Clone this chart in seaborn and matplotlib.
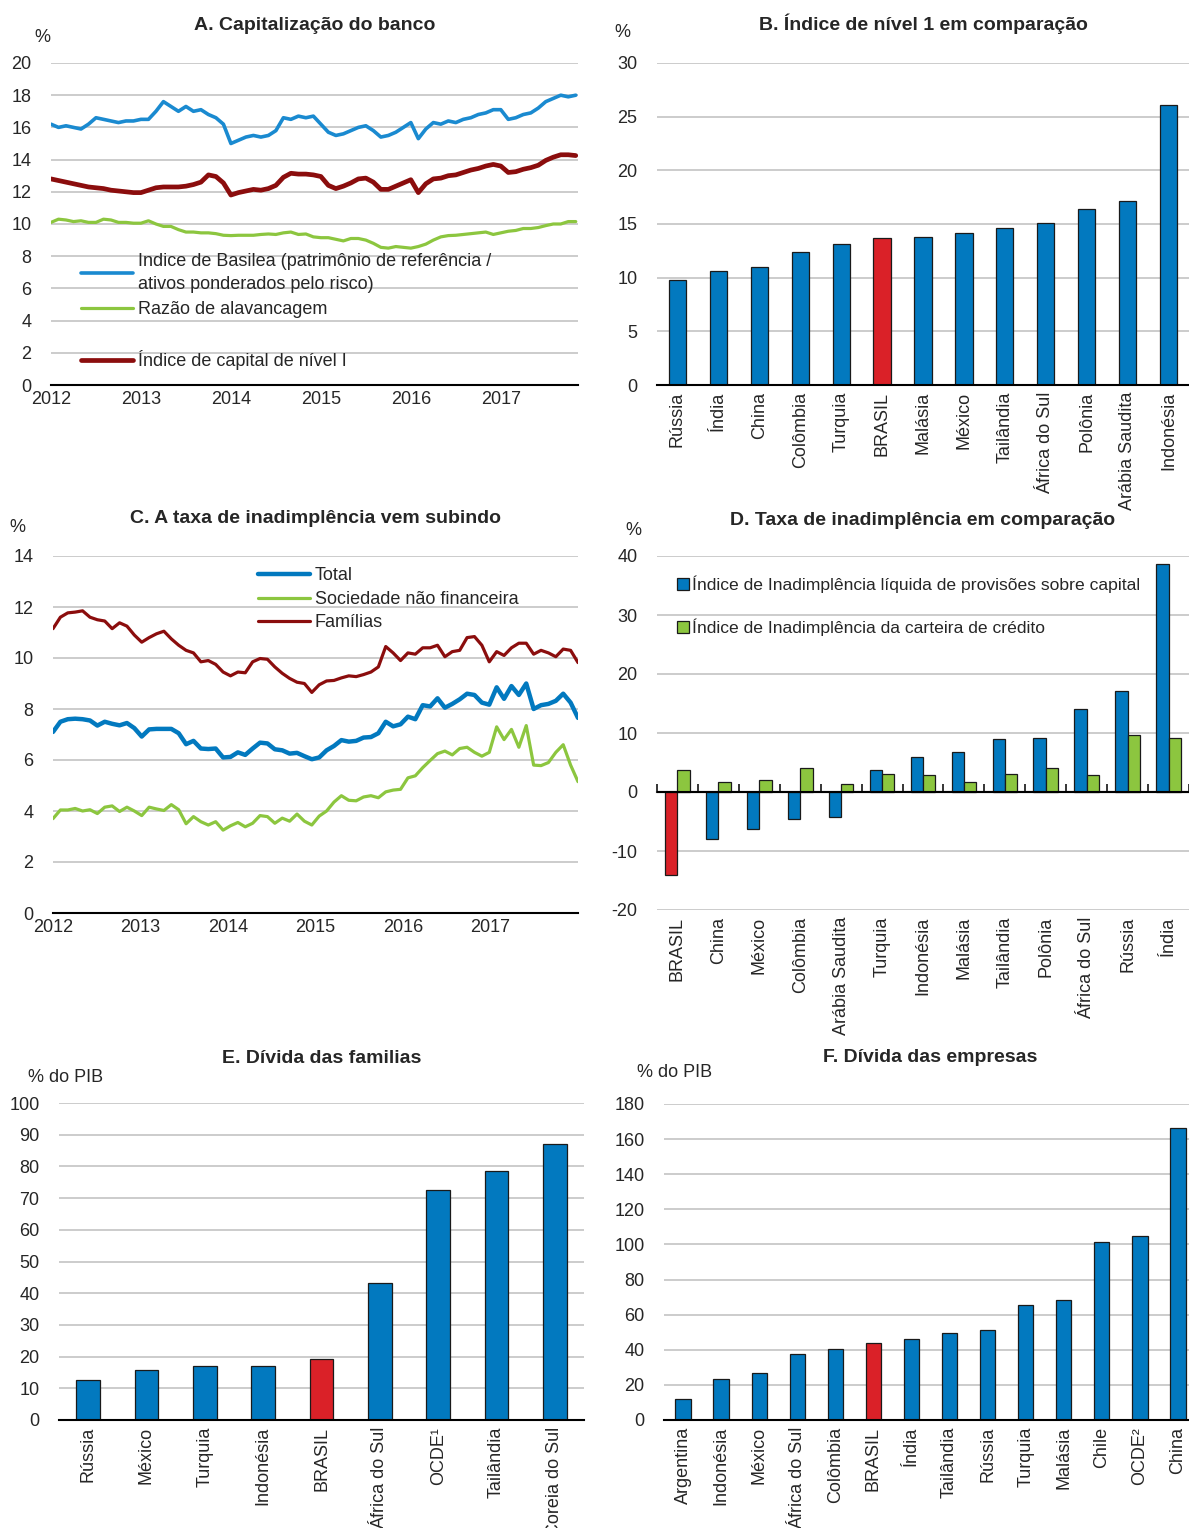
import matplotlib
matplotlib.use("Agg")
import numpy as np
import pandas as pd
import seaborn as sns
import matplotlib.pyplot as plt
from matplotlib.lines import Line2D
from matplotlib.patches import Patch

# --- cores
AZUL = "#0279BF"
AZUL_LINHA = "#1A8AD0"
VERDE = "#8CC63F"
VERMELHO_ESC = "#8B0D0D"
VERMELHO = "#DA2128"
BORDA = "#1a1a1a"
GRADE = "#CCCCCC"

# --- A. Capitalização do banco (mensal, jan/2012 - nov/2017)
anos_a = ["2012", "2013", "2014", "2015", "2016", "2017"]
basilea = [16.2, 16.0, 16.1, 16.0, 15.9, 16.2, 16.6, 16.5, 16.4, 16.3, 16.4, 16.4,
           16.5, 16.5, 17.0, 17.6, 17.3, 17.0, 17.3, 17.0, 17.1, 16.8, 16.6, 16.2,
           15.0, 15.2, 15.4, 15.5, 15.4, 15.5, 15.8, 16.6, 16.5, 16.7, 16.6, 16.7,
           16.2, 15.7, 15.5, 15.6, 15.8, 16.0, 16.1, 15.8, 15.4, 15.5, 15.7, 16.0,
           16.3, 15.3, 15.9, 16.3, 16.2, 16.4, 16.3, 16.5, 16.6, 16.8, 16.9, 17.1,
           17.1, 16.5, 16.6, 16.8, 16.9, 17.2, 17.6, 17.8, 18.0, 17.9, 18.0]
alavancagem = [10.1, 10.3, 10.25, 10.15, 10.2, 10.1, 10.1, 10.3, 10.25, 10.1, 10.1, 10.05,
               10.05, 10.2, 10.0, 9.85, 9.85, 9.65, 9.5, 9.5, 9.45, 9.45, 9.4, 9.3,
               9.28, 9.3, 9.3, 9.3, 9.35, 9.38, 9.35, 9.45, 9.5, 9.35, 9.38, 9.2,
               9.15, 9.15, 9.05, 8.95, 9.1, 9.1, 9.0, 8.8, 8.55, 8.5, 8.6, 8.55,
               8.5, 8.6, 8.75, 9.0, 9.2, 9.28, 9.3, 9.35, 9.4, 9.45, 9.5, 9.35,
               9.45, 9.55, 9.6, 9.72, 9.72, 9.78, 9.9, 10.0, 10.0, 10.15, 10.15]
capital_n1 = [12.8, 12.7, 12.6, 12.5, 12.4, 12.3, 12.25, 12.2, 12.1, 12.05, 12.0, 11.95,
              11.95, 12.1, 12.25, 12.3, 12.3, 12.3, 12.35, 12.45, 12.6, 13.05, 12.95, 12.55,
              11.8, 11.95, 12.05, 12.15, 12.1, 12.2, 12.4, 12.9, 13.15, 13.1, 13.1, 13.05,
              12.95, 12.4, 12.2, 12.35, 12.55, 12.8, 12.85, 12.6, 12.15, 12.15, 12.35, 12.55,
              12.75, 11.95, 12.5, 12.8, 12.85, 13.0, 13.05, 13.2, 13.35, 13.45, 13.6, 13.7,
              13.6, 13.2, 13.25, 13.4, 13.5, 13.65, 13.95, 14.15, 14.3, 14.3, 14.25]

# --- B. Índice de nível 1
paises_b = ["Rússia", "Índia", "China", "Colômbia", "Turquia", "BRASIL", "Malásia",
            "México", "Tailândia", "África do Sul", "Polônia", "Arábia Saudita", "Indonésia"]
nivel1 = [9.8, 10.6, 11.0, 12.4, 13.1, 13.7, 13.8, 14.2, 14.6, 15.1, 16.4, 17.1, 26.1]

# --- C. Taxa de inadimplência (mensal, jan/2012 - dez/2017)
total = [7.1, 7.5, 7.6, 7.62, 7.6, 7.55, 7.35, 7.5, 7.42, 7.36, 7.45, 7.25,
         6.92, 7.2, 7.22, 7.22, 7.22, 7.05, 6.62, 6.75, 6.45, 6.43, 6.45, 6.1,
         6.12, 6.3, 6.2, 6.45, 6.68, 6.65, 6.42, 6.38, 6.25, 6.28, 6.15, 6.03,
         6.1, 6.38, 6.55, 6.78, 6.72, 6.75, 6.88, 6.9, 7.05, 7.5, 7.32, 7.4,
         7.7, 7.6, 8.15, 8.1, 8.42, 8.05, 8.2, 8.38, 8.6, 8.55, 8.25, 8.17,
         8.85, 8.4, 8.9, 8.55, 9.0, 8.0, 8.15, 8.2, 8.32, 8.6, 8.25, 7.65]
sociedade = [3.7, 4.04, 4.04, 4.1, 4.0, 4.05, 3.9, 4.15, 4.2, 3.98, 4.15, 4.0,
             3.82, 4.15, 4.08, 4.02, 4.25, 4.05, 3.5, 3.78, 3.58, 3.45, 3.58, 3.25,
             3.42, 3.55, 3.38, 3.52, 3.82, 3.78, 3.52, 3.72, 3.6, 3.88, 3.6, 3.45,
             3.8, 4.0, 4.35, 4.6, 4.42, 4.4, 4.55, 4.6, 4.52, 4.75, 4.82, 4.85,
             5.3, 5.38, 5.7, 5.98, 6.25, 6.35, 6.2, 6.45, 6.5, 6.3, 6.15, 6.3,
             7.3, 6.8, 7.2, 6.5, 7.35, 5.8, 5.78, 5.9, 6.3, 6.6, 5.8, 5.15]
familias = [11.15, 11.6, 11.77, 11.8, 11.85, 11.6, 11.5, 11.45, 11.15, 11.38, 11.25, 10.9,
            10.62, 10.8, 10.95, 11.05, 10.75, 10.5, 10.3, 10.2, 9.85, 9.9, 9.75, 9.45,
            9.3, 9.45, 9.42, 9.85, 9.98, 9.95, 9.65, 9.4, 9.2, 9.05, 9.0, 8.65,
            8.95, 9.1, 9.12, 9.22, 9.3, 9.27, 9.35, 9.45, 9.65, 10.45, 10.2, 9.9,
            10.2, 10.15, 10.4, 10.4, 10.5, 10.05, 10.25, 10.3, 10.8, 10.84, 10.5, 9.85,
            10.25, 10.1, 10.4, 10.58, 10.58, 10.15, 10.3, 10.2, 10.05, 10.35, 10.3, 9.82]

# --- D. Taxa de inadimplência em comparação
paises_d = ["BRASIL", "China", "México", "Colômbia", "Arábia Saudita", "Turquia", "Indonésia",
            "Malásia", "Tailândia", "Polônia", "África do Sul", "Rússia", "Índia"]
inad_liquida = [-14.0, -8.0, -6.2, -4.5, -4.2, 3.8, 6.0, 6.8, 8.9, 9.1, 14.1, 17.1, 38.7]
inad_carteira = [3.7, 1.7, 2.1, 4.1, 1.35, 3.1, 2.9, 1.65, 3.1, 4.1, 2.9, 9.7, 9.15]
serie_d = ["Índice de Inadimplência líquida de provisões sobre capital",
           "Índice de Inadimplência da carteira de crédito"]

# --- E. Dívida das famílias
paises_e = ["Rússia", "México", "Turquia", "Indonésia", "BRASIL", "África do Sul",
            "OCDE¹", "Tailândia", "Coreia do Sul"]
divida_familias = [12.7, 15.9, 17.1, 17.1, 19.3, 43.3, 72.4, 78.5, 87.1]

# --- F. Dívida das empresas
paises_f = ["Argentina", "Indonésia", "México", "África do Sul", "Colômbia", "BRASIL", "Índia",
            "Tailândia", "Rússia", "Turquia", "Malásia", "Chile", "OCDE²", "China"]
divida_empresas = [12.1, 23.1, 26.9, 37.7, 40.5, 43.6, 46.4, 49.6, 51.5, 65.7, 68.2, 101.2, 105.0, 166.2]

sns.set_style("white")
plt.rcParams["font.family"] = ["Liberation Sans", "DejaVu Sans"]
plt.rcParams["font.size"] = 13
plt.rcParams["axes.unicode_minus"] = False

W, H = 1189, 1528
fig = plt.figure(figsize=(W / 100, H / 100), dpi=100)


def caixa(l, t, r, b):
    return fig.add_axes([l / W, 1 - b / H, (r - l) / W, (b - t) / H])


def estilo(ax, titulo, ylim, passo, unidade, ux, uy, pad=24):
    ax.set_ylim(*ylim)
    ax.set_yticks(np.arange(ylim[0], ylim[1] + 0.01, passo))
    ax.yaxis.grid(True, color=GRADE, lw=1.4)
    ax.set_axisbelow(True)
    for s in ["top", "right", "left"]:
        ax.spines[s].set_visible(False)
    ax.spines["bottom"].set_color("black")
    ax.spines["bottom"].set_linewidth(1.5)
    ax.tick_params(axis="y", length=0, pad=14, labelsize=13)
    ax.set_title(titulo, fontsize=14, fontweight="bold", pad=pad)
    ax.text(ux, uy, unidade, transform=ax.transAxes, ha="center", va="center", fontsize=13)
    ax.set_xlabel("")
    ax.set_ylabel("")


def barras_eixo(ax, n):
    ax.set_xlim(-0.5, n - 0.5)
    ax.tick_params(axis="x", which="major", length=0, pad=5, labelsize=13, rotation=90)
    ax.set_xticks(np.arange(n + 1) - 0.5, minor=True)
    ax.tick_params(axis="x", which="minor", direction="in", length=6, width=1.3, color="black")


# ---------- A
ax = caixa(51, 63, 578, 385)
ia = np.arange(len(basilea))
sns.lineplot(x=ia, y=basilea, color=AZUL_LINHA, lw=2.6, ax=ax)
sns.lineplot(x=ia, y=alavancagem, color=VERDE, lw=2.3, ax=ax)
sns.lineplot(x=ia, y=capital_n1, color=VERMELHO_ESC, lw=3.4, ax=ax)
estilo(ax, "A. Capitalização do banco", (0, 20), 2, "%", -0.017, 1.08)
ax.set_xlim(0, 70.3)
ax.set_xticks(np.arange(len(anos_a)) * 12, labels=anos_a)
ax.tick_params(axis="x", direction="in", length=6, width=1.3, pad=4, labelsize=13)
hs = [Line2D([], [], color=AZUL_LINHA, lw=2.6),
      Line2D([], [], color=VERDE, lw=2.3),
      Line2D([], [], color="none"),
      Line2D([], [], color=VERMELHO_ESC, lw=3.4)]
ls = ["Indice de Basilea (patrimônio de referência /\nativos ponderados pelo risco)",
      "Razão de alavancagem", " ", "Índice de capital de nível I"]
leg = ax.legend(hs, ls, loc="upper left", bbox_to_anchor=(0.057, 0.41), frameon=False,
                handlelength=2.9, handletextpad=0.25, labelspacing=0.42, borderpad=0,
                borderaxespad=0, fontsize=13)
for t in leg.get_texts():
    t.set_linespacing(1.5)

# ---------- B
ax = caixa(657, 63, 1189, 385)
sns.barplot(x=paises_b, y=nivel1, hue=paises_b,
            palette={p: (VERMELHO if p == "BRASIL" else AZUL) for p in paises_b},
            legend=False, width=0.42, saturation=1, edgecolor=BORDA, linewidth=0.9, ax=ax)
estilo(ax, "B. Índice de nível 1 em comparação", (0, 30), 5, "%", -0.065, 1.095)
barras_eixo(ax, len(paises_b))

# ---------- C
ax = caixa(53, 556, 578, 913)
ic = np.arange(len(total))
sns.lineplot(x=ic, y=total, color=AZUL, lw=3.2, ax=ax, label="Total")
sns.lineplot(x=ic, y=sociedade, color=VERDE, lw=2.3, ax=ax, label="Sociedade não financeira")
sns.lineplot(x=ic, y=familias, color=VERMELHO_ESC, lw=2.3, ax=ax, label="Famílias")
estilo(ax, "C. A taxa de inadimplência vem subindo", (0, 14), 2, "%", -0.067, 1.08)
ax.set_xlim(0, 71)
tc = np.linspace(0, 71, 7)
ax.set_xticks(tc, labels=["2012", "2013", "2014", "2015", "2016", "2017", ""])
ax.tick_params(axis="x", direction="in", length=6, width=1.3, pad=4, labelsize=13)
ax.legend(loc="upper left", bbox_to_anchor=(0.39, 0.968), frameon=False,
          handlelength=2.9, handletextpad=0.25, labelspacing=0.36, borderpad=0,
          borderaxespad=0, fontsize=13)

# ---------- D
ax = caixa(657, 556, 1189, 910)
df_d = pd.DataFrame({"pais": paises_d * 2,
                     "serie": [serie_d[0]] * len(paises_d) + [serie_d[1]] * len(paises_d),
                     "valor": inad_liquida + inad_carteira})
sns.barplot(data=df_d, x="pais", y="valor", hue="serie", palette=[AZUL, VERDE],
            width=0.6, saturation=1, edgecolor=BORDA, linewidth=0.9, ax=ax)
ax.containers[0][paises_d.index("BRASIL")].set_facecolor(VERMELHO)
estilo(ax, "D. Taxa de inadimplência em comparação", (-20, 40), 10, "%", -0.045, 1.073, pad=22)
barras_eixo(ax, len(paises_d))
ax.spines["bottom"].set_visible(False)
ax.tick_params(axis="x", which="minor", length=0)
ax.axhline(0, color="black", lw=1.5, zorder=3)
sec = ax.secondary_xaxis(1 / 3)
sec.set_xticks(np.arange(len(paises_d) + 1) - 0.5, labels=[])
sec.tick_params(direction="in", length=6, width=1.3)
sec.spines["bottom"].set_linewidth(1.5)
hd = [Patch(facecolor=AZUL, edgecolor=BORDA, lw=0.9), Patch(facecolor=VERDE, edgecolor=BORDA, lw=0.9)]
ax.legend(hd, serie_d, loc="upper left", bbox_to_anchor=(0.038, 0.945), frameon=False,
          handlelength=0.65, handleheight=0.65, handletextpad=0.2, labelspacing=1.45,
          borderpad=0, borderaxespad=0, fontsize=12.6)

# ---------- E
ax = caixa(59, 1103, 584, 1420)
sns.barplot(x=paises_e, y=divida_familias, hue=paises_e,
            palette={p: (VERMELHO if p == "BRASIL" else AZUL) for p in paises_e},
            legend=False, width=0.41, saturation=1, edgecolor=BORDA, linewidth=0.9, ax=ax)
estilo(ax, "E. Dívida das familias", (0, 100), 10, "% do PIB", 0.012, 1.082, pad=29)
barras_eixo(ax, len(paises_e))

# ---------- F
ax = caixa(664, 1104, 1197, 1420)
sns.barplot(x=paises_f, y=divida_empresas, hue=paises_f,
            palette={p: (VERMELHO if p == "BRASIL" else AZUL) for p in paises_f},
            legend=False, width=0.4, saturation=1, edgecolor=BORDA, linewidth=0.9, ax=ax)
estilo(ax, "F. Dívida das empresas", (0, 180), 20, "% do PIB", 0.02, 1.10, pad=30)
barras_eixo(ax, len(paises_f))

fig.savefig("out.png", dpi=100)
